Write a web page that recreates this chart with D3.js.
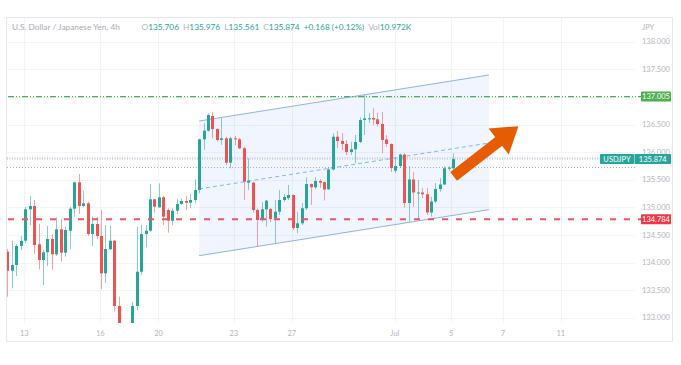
<!DOCTYPE html>
<html>
<head>
<meta charset="utf-8">
<script src="https://cdn.jsdelivr.net/npm/d3@7"></script>
<style>
body{margin:0;background:#fff;}
svg{display:block;font-family:"Lato","Liberation Sans",sans-serif;}
</style>
</head>
<body>
<svg></svg>
<script>
// USD/JPY 4h candles
var opens = [134.196,133.851,133.955,134.299,134.395,134.964,135.024,134.330,134.045,134.185,
134.426,134.149,134.601,134.178,134.576,134.975,135.453,135.024,135.072,134.516,
134.697,134.480,133.804,134.239,134.395,133.212,132.780,132.550,132.750,133.212,
133.833,134.516,134.576,135.145,135.000,135.181,134.951,134.757,134.938,135.060,
135.114,135.083,135.132,135.313,136.232,136.388,136.654,136.418,136.219,136.250,
135.808,136.250,136.232,136.069,135.446,135.446,134.951,134.770,134.964,134.969,
134.801,134.920,135.132,135.168,135.223,134.625,134.710,134.982,135.422,135.362,
135.476,135.458,135.326,135.685,136.279,136.201,136.147,136.002,136.051,136.183,
136.582,136.594,136.618,136.594,136.509,136.228,136.147,135.663,135.748,135.957,
135.078,135.504,135.250,135.268,135.236,134.906,135.105,135.332,135.413,135.703,
135.706];
var highs = [134.245,134.395,134.335,134.480,135.011,135.205,135.132,134.697,134.226,134.661,
134.516,134.819,134.788,134.649,135.011,135.464,135.603,135.301,135.101,134.830,
134.824,134.951,134.679,134.667,134.408,133.380,132.850,132.800,133.290,134.649,
134.679,134.679,135.422,135.150,135.435,135.205,134.982,134.982,135.145,135.163,
135.205,135.241,135.507,136.240,136.522,136.703,136.732,136.431,136.612,136.279,
136.279,136.292,136.255,136.098,135.888,135.464,134.982,135.096,135.132,134.987,
135.132,135.313,135.241,135.404,135.230,134.920,135.078,135.543,135.435,135.543,
135.507,135.464,135.730,136.341,136.382,136.346,136.219,136.188,136.310,136.630,
137.034,136.708,136.793,136.714,136.726,136.310,136.159,135.911,135.971,135.975,
135.748,135.640,135.495,135.350,135.350,135.192,135.440,135.531,135.740,135.748,
135.976];
var lows = [133.380,133.533,133.755,134.226,134.348,134.679,134.154,133.877,133.592,133.937,
133.864,134.118,134.015,134.105,134.239,134.830,134.879,135.000,134.480,134.299,
134.426,133.515,133.629,134.226,133.109,132.687,132.450,132.450,132.687,133.140,
133.774,134.275,134.560,134.902,134.990,134.679,134.540,134.679,134.879,135.042,
134.951,134.982,135.072,135.254,136.038,136.370,136.250,136.188,136.129,135.766,
135.707,136.129,136.056,135.132,135.313,134.902,134.286,134.734,134.649,134.734,
134.348,134.860,135.101,135.132,134.589,134.529,134.679,134.951,135.042,135.332,
135.350,135.123,135.313,135.667,136.074,136.038,135.947,135.947,135.797,136.165,
136.310,136.527,136.491,136.460,135.978,136.092,135.640,135.621,135.712,134.996,
134.739,135.011,134.770,135.168,134.860,134.830,135.078,135.283,135.404,135.658,
135.561];
var closes = [133.851,133.955,134.299,134.390,134.964,135.024,134.317,134.045,134.185,134.426,
134.149,134.601,134.178,134.589,134.975,135.453,135.024,135.072,134.516,134.697,
134.480,133.804,134.245,134.395,133.212,132.777,132.550,132.720,133.212,133.833,
134.516,134.576,135.145,135.011,135.181,134.830,134.757,134.938,135.060,135.114,
135.083,135.132,135.313,136.232,136.388,136.672,136.418,136.219,136.250,135.808,
136.250,136.232,136.069,135.464,135.482,134.951,134.770,134.964,135.120,134.788,
134.920,135.132,135.187,135.223,134.625,134.710,134.982,135.422,135.362,135.476,
135.446,135.322,135.685,136.279,136.201,136.147,136.002,136.051,136.183,136.582,
136.612,136.612,136.591,136.509,136.219,136.147,135.712,135.748,135.957,135.078,
135.504,135.268,135.268,135.236,134.906,135.105,135.332,135.413,135.707,135.717,
135.874];

var dateLabels = ["13","16","20","23","27","Jul","5","7","11"];
var dateSlots = [3.8,20.85,33.9,50.8,63.8,86.9,99.5,111.1,124.1];
var priceTicks = [133,133.5,134,134.5,135,135.5,136,136.5,137,137.5,138];

// legend of the last bar
var legendKeys = ["O","H","L","C","","Vol"];
var legendValues = ["135.706","135.976","135.561","135.874","+0.168 (+0.12%)","10.972K"];

// drawings on the chart
var channelUpper = [{i:43,p:136.563},{i:108,p:137.397}];
var channelMiddle = [{i:43,p:135.332},{i:108,p:136.165}];
var channelLower = [{i:43,p:134.123},{i:108,p:134.957}];
var resistance = 137.005;
var support = 134.784;
var lastPrice = 135.874;
var askPrice = 135.895;
var prevClose = 135.72;
var arrowFrom = {i:101.05,p:135.62};
var arrowTo = {i:114.6,p:136.47};

var green = "#26a69a", red = "#ef5350", axisGrey = "#b2b5be";

var fmt = d3.format(".3f");

var svg = d3.select("svg").attr("width",681).attr("height",365);

var plot = {left:7,right:635,top:18,bottom:323};

var xScale = d3.scaleLinear().domain([0,100]).range([7.3,453.3]);
var yScale = d3.scaleLinear().domain([133,138]).range([317.7,41.7]);

// frame
svg.append("rect")
.attr("x",6.5).attr("y",17.5).attr("width",666).attr("height",324)
.attr("fill","none").attr("stroke","#e6e8ee");

svg.append("clipPath").attr("id","plotclip")
.append("rect")
.attr("x",plot.left).attr("y",plot.top)
.attr("width",plot.right-plot.left).attr("height",plot.bottom-plot.top);

var grid = svg.append("g").attr("clip-path","url(#plotclip)");
grid.selectAll("line.v").data(dateSlots).enter().append("line")
.attr("class","v")
.attr("x1",function(d){return Math.round(xScale(d))+0.5;})
.attr("x2",function(d){return Math.round(xScale(d))+0.5;})
.attr("y1",plot.top).attr("y2",plot.bottom)
.attr("stroke","#f3f4f7");
grid.selectAll("line.h").data(priceTicks).enter().append("line")
.attr("class","h")
.attr("y1",function(d){return Math.round(yScale(d))+0.5;})
.attr("y2",function(d){return Math.round(yScale(d))+0.5;})
.attr("x1",plot.left).attr("x2",plot.right)
.attr("stroke","#f3f4f7");

var chart = svg.append("g").attr("clip-path","url(#plotclip)");

// parallel channel
var pt = function(d){return [xScale(d.i),yScale(d.p)];};
chart.append("polygon")
.attr("points",[pt(channelUpper[0]),pt(channelUpper[1]),pt(channelLower[1]),pt(channelLower[0])].map(function(p){return p.join(",");}).join(" "))
.attr("fill","rgba(41,98,255,0.065)");

var line = d3.line().x(function(d){return xScale(d.i);}).y(function(d){return yScale(d.p);});
chart.append("path").attr("d",line(channelUpper)).attr("fill","none").attr("stroke","#8fb0ee").attr("stroke-width",1);
chart.append("path").attr("d",line(channelLower)).attr("fill","none").attr("stroke","#8fb0ee").attr("stroke-width",1);
chart.append("path").attr("d",line(channelMiddle)).attr("fill","none").attr("stroke","#7ab8f5").attr("stroke-width",1).attr("stroke-dasharray","4,3");

// price lines
var hline = function(p,color,dash,width,x2){
    chart.append("line")
    .attr("x1",plot.left).attr("x2",x2)
    .attr("y1",yScale(p)).attr("y2",yScale(p))
    .attr("stroke",color).attr("stroke-width",width).attr("stroke-dasharray",dash);
};
hline(prevClose,"#a9acb5","1,2",1,plot.right);
hline(askPrice,"#f4a3aa","1,1.5",1,plot.right);
hline(lastPrice,"#8ccbf2","1,1.5",1,plot.right);

// candles
var idx = d3.range(opens.length);
var cx = function(i){return Math.round(xScale(i));};
chart.selectAll("line.wick").data(idx).enter().append("line")
.attr("class","wick")
.attr("x1",function(i){return cx(i)+0.5;})
.attr("x2",function(i){return cx(i)+0.5;})
.attr("y1",function(i){return yScale(highs[i]);})
.attr("y2",function(i){return yScale(lows[i]);})
.attr("stroke",function(i){return closes[i]>=opens[i]?green:red;})
.attr("stroke-opacity",0.55);
chart.selectAll("rect.body").data(idx).enter().append("rect")
.attr("class","body")
.attr("x",function(i){return cx(i)-1;})
.attr("width",3)
.attr("y",function(i){return yScale(Math.max(opens[i],closes[i]));})
.attr("height",function(i){return Math.max(1,Math.abs(yScale(opens[i])-yScale(closes[i])));})
.attr("fill",function(i){return closes[i]>=opens[i]?green:red;});

// support / resistance
svg.append("line")
.attr("x1",plot.left+1).attr("x2",641)
.attr("y1",yScale(resistance)).attr("y2",yScale(resistance))
.attr("stroke","#4caf50").attr("stroke-width",1.3).attr("stroke-dasharray","6,2,1,2,1,2");
svg.append("line")
.attr("x1",plot.left+1).attr("x2",641)
.attr("y1",yScale(support)).attr("y2",yScale(support))
.attr("stroke","#f0545e").attr("stroke-width",2).attr("stroke-dasharray","6,8");

// arrow
var a0 = [xScale(arrowFrom.i),yScale(arrowFrom.p)];
var a1 = [xScale(arrowTo.i),yScale(arrowTo.p)];
var dx = a1[0]-a0[0], dy = a1[1]-a0[1], len = Math.sqrt(dx*dx+dy*dy);
var ux = dx/len, uy = dy/len;
var headLen = 25, headHalf = 16.5;
var base = [a1[0]-ux*headLen,a1[1]-uy*headLen];
svg.append("line")
.attr("x1",a0[0]).attr("y1",a0[1]).attr("x2",base[0]+ux*2).attr("y2",base[1]+uy*2)
.attr("stroke","#e65c00").attr("stroke-width",11).attr("stroke-linecap","square");
svg.append("polygon")
.attr("points",[a1,[base[0]-uy*headHalf,base[1]+ux*headHalf],[base[0]+uy*headHalf,base[1]-ux*headHalf]].map(function(p){return p.join(",");}).join(" "))
.attr("fill","#e65c00");

// price axis
svg.append("text").attr("x",642).attr("y",27).attr("dy","0.35em")
.attr("font-size",7.5).attr("fill",axisGrey).text("JPY");
svg.selectAll("text.pt").data(priceTicks).enter().append("text")
.attr("class","pt")
.attr("x",642).attr("y",function(d){return yScale(d);}).attr("dy","0.35em")
.attr("font-size",7.5).attr("fill",axisGrey)
.text(function(d){return fmt(d);});

var tag = function(x,w,p,color,label){
    svg.append("rect").attr("x",x).attr("y",yScale(p)-5).attr("width",w).attr("height",10)
    .attr("rx",1).attr("fill",color);
    svg.append("text").attr("x",x+w/2).attr("y",yScale(p)).attr("dy","0.35em")
    .attr("text-anchor","middle").attr("font-size",7.5).attr("fill","#fff").text(label);
};
tag(641,30,resistance,"#4caf50",fmt(resistance));
tag(641,30,support,"#f23645",fmt(support));
tag(600,34,lastPrice,green,"USDJPY");
tag(634.5,36.5,lastPrice,green,fmt(lastPrice));
svg.append("line").attr("x1",634.5).attr("x2",634.5)
.attr("y1",yScale(lastPrice)-5).attr("y2",yScale(lastPrice)+5)
.attr("stroke","#7fd0c8").attr("stroke-width",0.8);

// time axis
svg.selectAll("text.dt").data(dateLabels).enter().append("text")
.attr("class","dt")
.attr("x",function(d,i){return xScale(dateSlots[i]);})
.attr("y",333).attr("dy","0.35em")
.attr("text-anchor","middle").attr("font-size",7.5).attr("fill",axisGrey)
.text(function(d){return d;});

// header
svg.append("text").attr("x",12).attr("y",27).attr("dy","0.35em")
.attr("font-size",8.3).attr("fill","#a7aab3")
.text("U.S. Dollar / Japanese Yen, 4h");
var ht = svg.append("text").attr("x",141.5).attr("y",27).attr("dy","0.35em").attr("font-size",8.3);
legendKeys.forEach(function(k,j){
    if (k) {
        ht.append("tspan").attr("fill",axisGrey).attr("dx",j==0?0:4).text(k);
        ht.append("tspan").attr("fill",green).text(legendValues[j]);
    } else {
        ht.append("tspan").attr("fill",green).attr("dx",4).text(legendValues[j]);
    }
});
</script>
</body>
</html>
